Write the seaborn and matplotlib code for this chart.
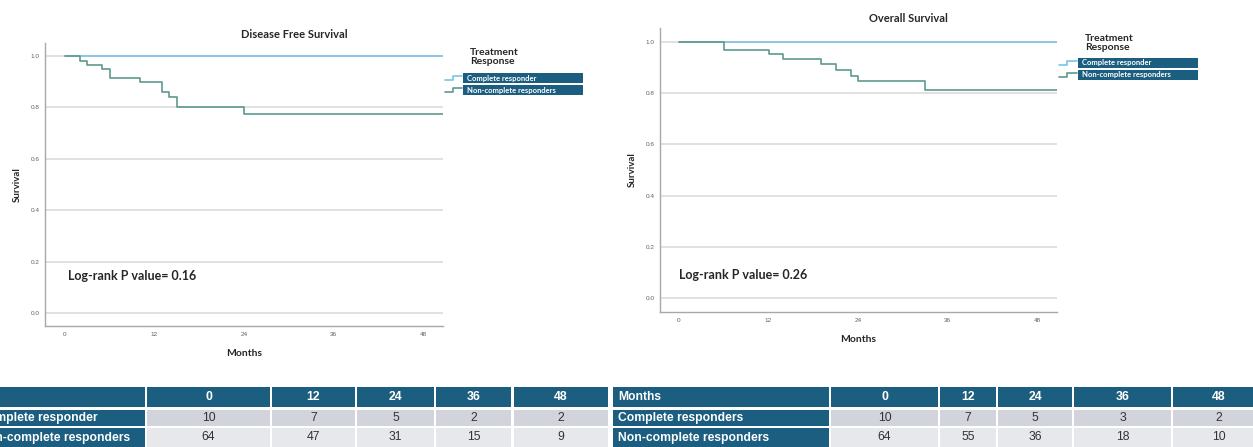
import matplotlib
matplotlib.use("Agg")
import matplotlib.pyplot as plt
import matplotlib.patches as mpatches
from matplotlib.lines import Line2D
import pandas as pd
import seaborn as sns

# Kaplan-Meier step values (months, survival)
dfs_time_complete = [0, 50.7]
dfs_surv_complete = [1.0, 1.0]
dfs_time_noncomplete = [0, 2, 3, 5, 6, 10, 13, 14, 15, 24, 50.7]
dfs_surv_noncomplete = [1.0, 0.982, 0.966, 0.948, 0.916, 0.897, 0.861, 0.839, 0.800, 0.775, 0.775]

os_time_complete = [0, 50.7]
os_surv_complete = [1.0, 1.0]
os_time_noncomplete = [0, 6, 12, 14, 19, 21, 23, 24, 33, 50.7]
os_surv_noncomplete = [1.0, 0.968, 0.952, 0.932, 0.913, 0.892, 0.869, 0.847, 0.813, 0.813]

groups = ["Complete responder", "Non-complete responders"]
month_ticks = [0, 12, 24, 36, 48]
surv_ticks = [0.0, 0.2, 0.4, 0.6, 0.8, 1.0]

# numbers at risk tables
risk_months = ["0", "12", "24", "36", "48"]
dfs_row_labels = ["Complete responder", "Non-complete responders"]
dfs_risk_complete = [10, 7, 5, 2, 2]
dfs_risk_noncomplete = [64, 47, 31, 15, 9]
os_row_labels = ["Complete responders", "Non-complete responders"]
os_risk_complete = [10, 7, 5, 3, 2]
os_risk_noncomplete = [64, 55, 36, 18, 10]

dfs_p = "Log-rank P value= 0.16"
os_p = "Log-rank P value= 0.26"

sns.set_style("white")
plt.rcParams["font.family"] = ["Lato", "DejaVu Sans"]

c_complete = "#7cc4e8"
c_noncomplete = "#5f9a90"
navy = "#1c5e7f"
palette = {groups[0]: c_complete, groups[1]: c_noncomplete}
tick_font = ["Liberation Sans", "DejaVu Sans"]

W, H = 1253, 447
fig = plt.figure(figsize=(W / 100, H / 100), dpi=100)


def make_df(t1, s1, t2, s2):
    return pd.concat([
        pd.DataFrame({"Months": t1, "Survival": s1, "group": groups[0]}),
        pd.DataFrame({"Months": t2, "Survival": s2, "group": groups[1]}),
    ])


def px_axes(x0, y0, x1, y1):
    return fig.add_axes([x0 / W, 1 - y1 / H, (x1 - x0) / W, (y1 - y0) / H])


def km_panel(ax, df, xlim, ylim):
    sns.lineplot(data=df, x="Months", y="Survival", hue="group", hue_order=groups,
                 palette=palette, estimator=None, drawstyle="steps-post",
                 linewidth=1.2, legend=False, ax=ax, zorder=3)
    ax.set_xlim(*xlim)
    ax.set_ylim(*ylim)
    ax.set_xticks(month_ticks)
    ax.set_xticklabels([str(m) for m in month_ticks], family=tick_font)
    ax.set_yticks(surv_ticks)
    ax.set_yticklabels([f"{v:.1f}" for v in surv_ticks], family=tick_font)
    ax.tick_params(length=0, labelsize=4.6, colors="#606060", pad=4)
    ax.yaxis.grid(True, color="#d9d9d9", linewidth=1.1)
    ax.xaxis.grid(False)
    sns.despine(ax=ax)
    for s in ["left", "bottom"]:
        ax.spines[s].set_color("#a8a8a8")
        ax.spines[s].set_linewidth(1.0)
    ax.set_xlabel("Months", fontsize=7.5, fontweight="bold", labelpad=9)
    ax.set_ylabel("Survival", fontsize=7, fontweight="bold", labelpad=6)


ax1 = px_axes(45, 43, 443, 326)
km_panel(ax1, make_df(dfs_time_complete, dfs_surv_complete, dfs_time_noncomplete, dfs_surv_noncomplete),
         (-2.68, 50.68), (-0.0506, 1.0506))
ax1.text(0.4, 0.144, dfs_p, fontsize=9, fontweight="bold", va="center", ha="left")

ax2 = px_axes(660, 28, 1057, 312)
km_panel(ax2, make_df(os_time_complete, os_surv_complete, os_time_noncomplete, os_surv_noncomplete),
         (-2.55, 50.68), (-0.0547, 1.0547))
ax2.text(0.0, 0.09, os_p, fontsize=9, fontweight="bold", va="center", ha="left")

# overlay in pixel coordinates for titles, legends and tables
ov = fig.add_axes([0, 0, 1, 1], facecolor="none")
ov.set_xlim(0, W)
ov.set_ylim(H, 0)
ov.axis("off")

ov.text(294, 34, "Disease Free Survival", fontsize=8, fontweight="bold", ha="center", va="center")
ov.text(908, 19, "Overall Survival", fontsize=8, fontweight="bold", ha="center", va="center")


def legend_block(x_icon, x_box, x_box_end, y_title, y_row1, row_h):
    ov.text(x_box + 7, y_title, "Treatment\nResponse", fontsize=7.5, fontweight="bold",
            ha="left", va="center", linespacing=1.1)
    for i, (g, c) in enumerate(zip(groups, [c_complete, c_noncomplete])):
        top = y_row1 + i * (row_h + 2)
        ov.add_patch(mpatches.Rectangle((x_box, top), x_box_end - x_box, row_h,
                                        facecolor=navy, edgecolor="none"))
        ov.text(x_box + 4, top + row_h / 2, g, fontsize=5.5, fontweight="bold",
                color="white", ha="left", va="center")
        mid = top + row_h / 2
        xs = [x_icon, x_icon + 8, x_icon + 8, x_box - 1]
        ys = [mid + 2, mid + 2, mid - 2, mid - 2]
        ov.add_line(Line2D(xs, ys, color=c, linewidth=1.2))


legend_block(445, 463, 583, 57, 73, 10)
legend_block(1059, 1078, 1198, 43, 58, 10)

tbl_font = ["Liberation Sans", "DejaVu Sans"]
rows_y = [(387, 407), (410, 426), (428, 447)]
row_bg = [navy, "#d1d4db", "#e6e8ec"]


def risk_table(label_col, col_bounds, header_label, row_labels, r1, r2):
    lx0, lx1 = label_col
    labels = [header_label] + row_labels
    for ri, (y0, y1) in enumerate(rows_y):
        ov.add_patch(mpatches.Rectangle((lx0, y0), lx1 - lx0, y1 - y0, facecolor=navy, edgecolor="none"))
        ov.text(lx0 + 5, (y0 + y1) / 2, labels[ri], fontsize=8.7, fontweight="bold",
                color="white", ha="left", va="center", family=tbl_font)
        vals = [risk_months, r1, r2][ri]
        for (cx0, cx1), v in zip(col_bounds, vals):
            ov.add_patch(mpatches.Rectangle((cx0, y0), cx1 - cx0, y1 - y0,
                                            facecolor=row_bg[ri], edgecolor="none"))
            ov.text((cx0 + cx1) / 2, (y0 + y1) / 2, str(v), fontsize=8.8,
                    fontweight="bold" if ri == 0 else "normal",
                    color="white" if ri == 0 else "#333333",
                    ha="center", va="center", family=tbl_font)


# left table runs off the left edge of the picture, as in the source image
risk_table((-26, 145), [(147, 270), (272, 355), (357, 434), (436, 511), (514, 608)],
           "", dfs_row_labels, dfs_risk_complete, dfs_risk_noncomplete)
risk_table((613, 829), [(831, 938), (940, 996), (998, 1072), (1074, 1171), (1173, 1265)],
           "Months", os_row_labels, os_risk_complete, os_risk_noncomplete)

fig.savefig("out.png", dpi=100)
